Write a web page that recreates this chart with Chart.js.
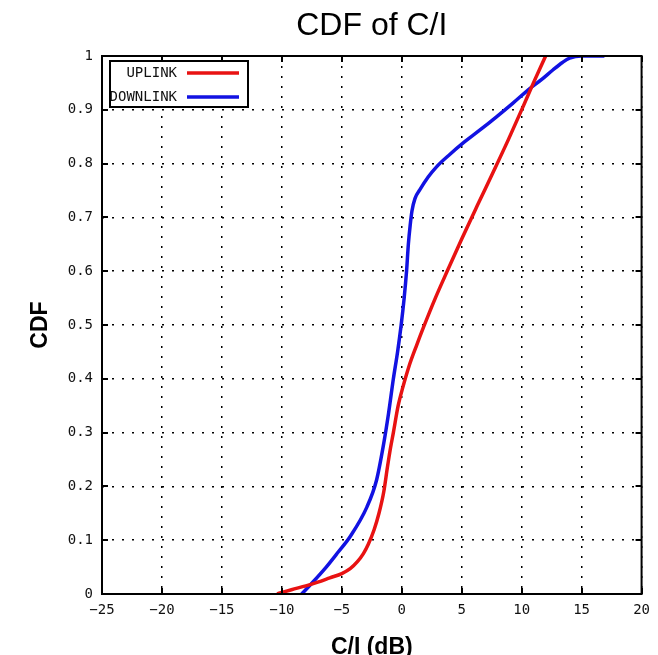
<!DOCTYPE html>
<html>
<head>
<meta charset="utf-8">
<script src="https://cdn.jsdelivr.net/npm/chart.js@4"></script>
<style>
html,body{margin:0;padding:0;background:#fff;}
canvas{display:block;}
</style>
</head>
<body>
<canvas id="c" width="658" height="655"></canvas>
<script>
const titleText = 'CDF of C/I';
const xAxisTitle = 'C/I (dB)';
const yAxisTitle = 'CDF';
const seriesNames = ['UPLINK', 'DOWNLINK'];

const xTickValues = [-25, -20, -15, -10, -5, 0, 5, 10, 15, 20];
const xTickLabels = ['\u221225', '\u221220', '\u221215', '\u221210', '\u22125', '0', '5', '10', '15', '20'];
const yTickValues = [0, 0.1, 0.2, 0.3, 0.4, 0.5, 0.6, 0.7, 0.8, 0.9, 1];
const yTickLabels = ['0', '0.1', '0.2', '0.3', '0.4', '0.5', '0.6', '0.7', '0.8', '0.9', '1'];

const uplinkX = [-10.4, -9.2, -8.0, -7.0, -6.0, -5.0, -4.3, -3.7, -3.2, -2.8, -2.3, -1.9, -1.5, -1.2, -0.95, -0.7, -0.3, 0.1, 0.6, 1.2, 1.8, 2.8, 3.85, 5.0, 6.3, 7.6, 8.9, 10.1, 11.0, 12.0];
const uplinkY = [0, 0.008, 0.015, 0.022, 0.03, 0.038, 0.047, 0.06, 0.075, 0.092, 0.12, 0.15, 0.19, 0.235, 0.27, 0.30, 0.35, 0.385, 0.423, 0.46, 0.495, 0.55, 0.603, 0.66, 0.722, 0.783, 0.845, 0.905, 0.951, 1.0];

const downlinkX = [-8.35, -7.5, -6.3, -5.3, -4.3, -2.9, -2.1, -1.55, -1.1, -0.7, -0.35, -0.05, 0.2, 0.4, 0.55, 0.7, 0.85, 1.1, 1.5, 2.2, 2.9, 4.0, 5.1, 6.5, 7.9, 9.3, 10.7, 11.7, 12.6, 13.4, 14.0, 15.0, 16.9];
const downlinkY = [0, 0.02, 0.05, 0.078, 0.107, 0.162, 0.212, 0.274, 0.336, 0.40, 0.45, 0.50, 0.55, 0.60, 0.65, 0.685, 0.712, 0.735, 0.751, 0.775, 0.794, 0.817, 0.838, 0.862, 0.887, 0.913, 0.94, 0.957, 0.974, 0.988, 0.996, 1.0, 1.0];

const colors = ['rgb(232,18,18)', 'rgb(18,18,226)'];

function pts(xs, ys) { return xs.map((x, i) => ({x: x, y: ys[i]})); }

const tickFont = {family: 'DejaVu Sans Mono', size: 14};

const framePlugin = {
  id: 'frame',
  afterDatasetsDraw(chart) {
    const ctx = chart.ctx, a = chart.chartArea;
    const xs = chart.scales.x, ys = chart.scales.y;
    ctx.save();
    ctx.strokeStyle = '#000';
    ctx.lineWidth = 2;
    ctx.beginPath();
    xs.ticks.forEach(t => {
      const p = Math.round(xs.getPixelForValue(t.value));
      ctx.moveTo(p, a.bottom); ctx.lineTo(p, a.bottom - 6);
      ctx.moveTo(p, a.top); ctx.lineTo(p, a.top + 6);
    });
    ys.ticks.forEach(t => {
      const p = Math.round(ys.getPixelForValue(t.value));
      ctx.moveTo(a.left, p); ctx.lineTo(a.left + 6, p);
      ctx.moveTo(a.right, p); ctx.lineTo(a.right - 6, p);
    });
    ctx.stroke();
    ctx.strokeRect(a.left, a.top, a.right - a.left, a.bottom - a.top);
    ctx.restore();
  },
  afterDraw(chart) {
    const ctx = chart.ctx, a = chart.chartArea;
    const bx = a.left + 8, by = a.top + 5, bw = 138, bh = 46;
    ctx.save();
    ctx.fillStyle = '#fff';
    ctx.fillRect(bx, by, bw, bh);
    ctx.strokeStyle = '#000';
    ctx.lineWidth = 2;
    ctx.strokeRect(bx, by, bw, bh);
    ctx.beginPath();
    ctx.rect(bx + 1, by + 1, bw - 2, bh - 2);
    ctx.clip();
    ctx.font = '14px "DejaVu Sans Mono"';
    ctx.textAlign = 'right';
    ctx.textBaseline = 'middle';
    chart.data.datasets.forEach((ds, i) => {
      const y = by + 12 + i * 24;
      ctx.fillStyle = '#111';
      ctx.fillText(ds.label, bx + 67, y);
      ctx.strokeStyle = ds.borderColor;
      ctx.lineWidth = 3.5;
      ctx.beginPath();
      ctx.moveTo(bx + 77, y);
      ctx.lineTo(bx + 129, y);
      ctx.stroke();
    });
    ctx.restore();
  }
};

new Chart(document.getElementById('c'), {
  type: 'line',
  data: {
    datasets: [
      {label: seriesNames[0], data: pts(uplinkX, uplinkY), borderColor: colors[0], backgroundColor: colors[0], borderWidth: 3.5, pointRadius: 0, cubicInterpolationMode: 'monotone', fill: false},
      {label: seriesNames[1], data: pts(downlinkX, downlinkY), borderColor: colors[1], backgroundColor: colors[1], borderWidth: 3.5, pointRadius: 0, cubicInterpolationMode: 'monotone', fill: false}
    ]
  },
  options: {
    responsive: false,
    animation: false,
    devicePixelRatio: 1,
    layout: {padding: {left: 0, right: 16, top: 0, bottom: 0}},
    plugins: {
      legend: {display: false},
      tooltip: {enabled: false},
      title: {
        display: true,
        text: titleText,
        fullSize: false,
        color: '#000',
        font: {family: 'Liberation Sans', size: 32, weight: 'normal', lineHeight: 1.2},
        padding: {top: 7, bottom: 10.6}
      }
    },
    scales: {
      x: {
        type: 'linear',
        min: -25, max: 20,
        afterFit(s) { s.height = 61; },
        afterBuildTicks(s) { s.ticks = xTickValues.map(v => ({value: v})); },
        ticks: {
          font: tickFont, color: '#111', padding: 8, maxRotation: 0,
          callback: (v) => xTickLabels[xTickValues.indexOf(v)]
        },
        grid: {color: '#000', lineWidth: 1.5, drawTicks: false},
        border: {display: false, dash: [2, 8]},
        title: {
          display: true, text: xAxisTitle, color: '#000',
          font: {family: 'Liberation Sans', size: 23, weight: 'bold', lineHeight: 1},
          padding: {top: 0, bottom: -4}
        }
      },
      y: {
        type: 'linear',
        min: 0, max: 1,
        afterFit(s) { s.width = 102; },
        afterBuildTicks(s) { s.ticks = yTickValues.map(v => ({value: v})); },
        ticks: {
          font: tickFont, color: '#111', padding: 9,
          callback: (v) => yTickLabels[yTickValues.indexOf(v)]
        },
        grid: {color: '#000', lineWidth: 1.5, drawTicks: false},
        border: {display: false, dash: [2, 8]},
        title: {
          display: true, text: yAxisTitle, color: '#000',
          font: {family: 'Liberation Sans', size: 23, weight: 'bold', lineHeight: 1},
          padding: {top: 29, bottom: 0}
        }
      }
    }
  },
  plugins: [framePlugin]
});
</script>
</body>
</html>
